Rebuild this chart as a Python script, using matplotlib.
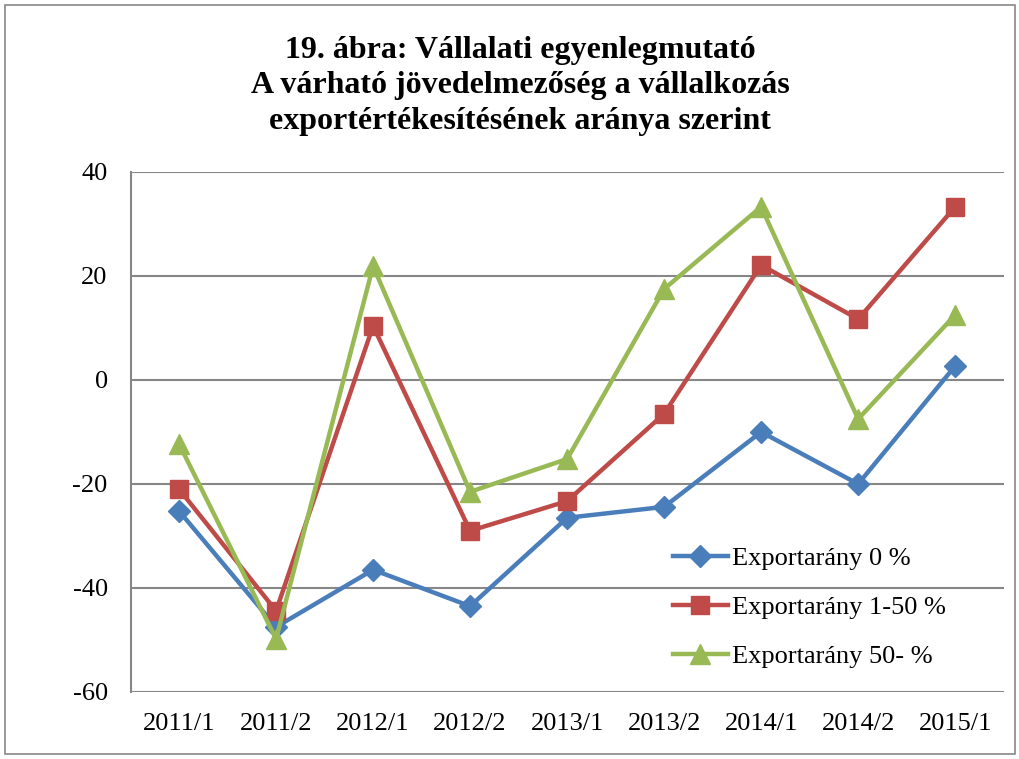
import matplotlib
matplotlib.use("Agg")
import matplotlib.pyplot as plt
from matplotlib.patches import Rectangle

plt.rcParams["font.family"] = ["Liberation Serif", "DejaVu Serif"]
plt.rcParams["axes.unicode_minus"] = False

periods = ["2011/1", "2011/2", "2012/1", "2012/2", "2013/1",
           "2013/2", "2014/1", "2014/2", "2015/1"]
export_0 = [-25.2, -47.5, -36.5, -43.5, -26.5, -24.4, -10.0, -20.0, 2.7]
export_1_50 = [-21.0, -44.4, 10.4, -29.0, -23.3, -6.5, 22.1, 11.7, 33.3]
export_50 = [-12.3, -49.8, 21.9, -21.5, -15.2, 17.5, 33.3, -7.5, 12.5]

labels = ["Exportarány 0 %", "Exportarány 1-50 %", "Exportarány 50- %"]
colors = ["#4a7ebb", "#be4b48", "#98b954"]
markers = ["D", "s", "^"]
msizes = [11, 13, 15]

fig = plt.figure(figsize=(10.2, 7.59), dpi=100)
fig.patches.append(Rectangle((0.005, 0.006), 0.99, 0.988, transform=fig.transFigure,
                             fill=False, edgecolor="#888888", linewidth=1.2))

ax = fig.add_axes([0.128, 0.0883, 0.856, 0.6851])
x = list(range(len(periods)))
for vals, lab, c, m, ms in zip([export_0, export_1_50, export_50], labels, colors, markers, msizes):
    ax.plot(x, vals, color=c, linewidth=3.2, marker=m, markersize=ms, label=lab,
            solid_joinstyle="round")

ax.set_xlim(-0.5, len(periods) - 0.5)
ax.set_ylim(-60, 40)
ax.set_yticks([-60, -40, -20, 0, 20, 40])
ax.set_xticks(x)
ax.set_xticklabels(periods)
ax.tick_params(axis="both", labelsize=19, length=0)
ax.tick_params(axis="y", pad=16.5)
ax.tick_params(axis="x", pad=15)
ax.grid(axis="y", color="#878787", linewidth=1.5)
ax.set_axisbelow(True)
for s in ["top", "right", "bottom"]:
    ax.spines[s].set_visible(False)
ax.spines["left"].set_color("#878787")
ax.spines["left"].set_linewidth(1.5)

ax.legend(loc="center left", bbox_to_anchor=(0.621, 0.163), frameon=False, fontsize=19,
          handlelength=2.1, labelspacing=0.97, handletextpad=0.15,
          borderpad=0, borderaxespad=0)

fig.text(0.51, 0.887, "19. ábra: Vállalati egyenlegmutató\nA várható jövedelmezőség a vállalkozás\nexportértékesítésének aránya szerint",
         ha="center", va="center", fontsize=23, fontweight="bold", linespacing=1.3)

fig.savefig("out.png", dpi=100)
